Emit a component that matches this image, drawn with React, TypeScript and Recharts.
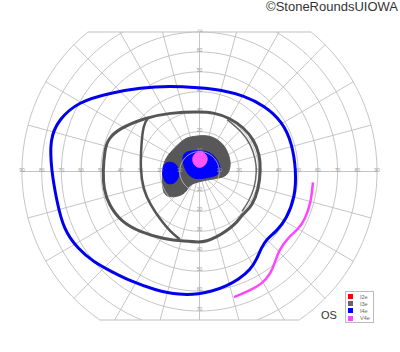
import React from "react";
import { ScatterChart, Scatter, XAxis, YAxis, ReferenceLine } from "recharts";

type Pt = { x: number; y: number; label?: string };
type XY = [number, number];

// grid: rings every 10°, meridians every 15°, field clipped top/bottom
const rings = [10, 20, 30, 40, 50, 60, 70, 80, 90];
const meridians = [0, 15, 30, 45, 60, 75, 90, 105, 120, 135, 150, 165, 180, 195, 210, 225, 240, 255, 270, 285, 300, 315, 330, 345];
const hTicks = [10, 20, 30, 40, 50, 60, 70, 80, 90];
const vTicks = [10, 20, 30, 40, 50, 60, 70];
const TOP = 70;
const BOTTOM = -74.5;
const MAXR = 90;

const legendNames = ["I2e", "I3e", "I4e", "V4e"];
const legendColors = ["#ff0000", "#666666", "#0000ff", "#ff44ff"];

// isopters, [x°, y°] from fixation
const i4eIsopter: XY[] = [
  [0, 42], [11, 41], [22.5, 38], [33, 33], [42, 25], [47, 14], [49, 0], [48.5, -12.5],
  [44, -24], [39, -30], [34, -34], [31.5, -38], [29, -44], [26, -49], [20, -54], [13.5, -57.5],
  [6.5, -60], [0, -61.5], [-10, -62], [-22.5, -59.5], [-35, -55], [-45, -50], [-53.5, -45.5],
  [-61.5, -39], [-69, -29], [-72.5, -14], [-75, 0], [-76, 16], [-71.5, 26], [-61.5, 35],
  [-45, 39.5], [-30, 42], [-15, 43],
];

const v4eIsopter: XY[] = [
  [57.5, -5.5], [56.5, -15.5], [53.5, -24], [50, -29], [45, -33], [40, -40], [38.5, -45],
  [36, -51.5], [31.5, -56.5], [25, -60], [17.5, -63],
];

const i3eIsopter: XY[] = [
  [0, 30], [7.5, 29.5], [15, 27], [22.5, 22], [27.5, 16], [30.5, 8.5], [31, 1], [30, -9],
  [26.5, -17.5], [23, -20.5], [21, -22.5], [19, -25.5], [13.5, -30], [8.5, -33], [3.5, -35],
  [0, -35.5], [-7.5, -35], [-17.5, -34], [-30, -30.5], [-40, -25], [-46, -16.5], [-48.5, -9],
  [-49, 0], [-48, 11], [-46.5, 16], [-41, 21.5], [-27.5, 27], [-15, 29.5],
];

const i3eInnerLeft: XY[] = [
  [-26, 27], [-28.5, 23.5], [-29.5, 13.5], [-30, 1], [-28.5, -9], [-25, -16.5], [-20, -24],
  [-15, -30], [-10, -34],
];

const i3eInnerRight: XY[] = [
  [14, 26], [21.5, 20], [26, 13.5], [28.5, 6], [29, 0], [28, -8], [25, -15], [21.5, -20],
];

// scotomas (filled)
const i3eScotoma: XY[] = [
  [-3.5, 17.5], [3.5, 18.5], [10, 16], [14, 11], [16, 4.5], [15, -0.5], [12.5, -3], [5, -4],
  [0, -5], [-5, -6.5], [-6.5, -10], [-10, -12.5], [-16, -13], [-18.5, -10.5], [-19, -4],
  [-18.5, 4.5], [-15, 9.5], [-10, 14.5], [-6.5, 17],
];

const i4eScotomaA: XY[] = [
  [-8.5, 9.5], [-3.5, 10.5], [3.5, 10.5], [7.5, 8], [10, 4], [11, 0], [8, -2.5], [3.5, -3],
  [-1, -4], [-5, -2.5], [-7, 0.5], [-8.5, 4.5],
];

const i4eScotomaB: XY[] = [
  [-18, 4], [-15, 5], [-12, 4], [-10.5, 1], [-10.5, -3], [-12.5, -6], [-16, -6.5], [-18, -4.5],
  [-19, 0],
];

const v4eScotoma: XY[] = [
  [-2, 9.5], [1.5, 10], [4, 8], [4, 4.5], [1.5, 2], [-1.5, 2], [-3.5, 4.5], [-3.5, 7.5],
];

const toPts = (a: XY[]): Pt[] => a.map(([x, y]) => ({ x, y }));
const rad = (d: number) => (d * Math.PI) / 180;

function arc(r: number, a0: number, a1: number): Pt[] {
  const n = Math.max(8, Math.ceil(Math.abs(a1 - a0) / 3));
  const out: Pt[] = [];
  for (let i = 0; i <= n; i++) {
    const a = rad(a0 + ((a1 - a0) * i) / n);
    out.push({ x: r * Math.cos(a), y: r * Math.sin(a) });
  }
  return out;
}

function ringArcs(r: number): Pt[][] {
  if (r <= TOP) return [arc(r, 0, 360)];
  const up = (Math.asin(TOP / r) * 180) / Math.PI;
  const down = r > -BOTTOM ? (Math.asin(-BOTTOM / r) * 180) / Math.PI : 90;
  return [arc(r, -down, up), arc(r, 180 - up, 180 + down)];
}

function spokeEnd(deg: number): Pt {
  const s = Math.sin(rad(deg));
  const c = Math.cos(rad(deg));
  let t = MAXR;
  if (s > 1e-6) t = Math.min(t, TOP / s);
  if (s < -1e-6) t = Math.min(t, -BOTTOM / -s);
  return { x: t * c, y: t * s };
}

const gridArcs = rings.flatMap(ringArcs);
const topHalf = Math.sqrt(MAXR * MAXR - TOP * TOP);
const botHalf = Math.sqrt(MAXR * MAXR - BOTTOM * BOTTOM);

const tickLabels: Pt[] = [
  ...hTicks.flatMap((t) => [
    { x: t, y: 0, label: String(t) },
    { x: -t, y: 0, label: String(t) },
  ]),
  ...vTicks.flatMap((t) => [
    { x: 0, y: t, label: String(t) },
    { x: 0, y: -t, label: String(t) },
  ]),
];

const GRID = "#bfbfbf";
const NoDot = () => <g />;
const TickText = (p: any) => (
  <text x={p.cx} y={p.cy} textAnchor="middle" fontSize={5} fill="#999" fontFamily="Liberation Sans, Arial, sans-serif">
    {p.payload?.label}
  </text>
);

export default function App() {
  return (
    <div style={{ position: "absolute", left: 0, top: 0, width: 400, height: 352, background: "#fff", fontFamily: "Liberation Sans, Arial, sans-serif" }}>
      <ScatterChart width={400} height={352} margin={{ top: 29, right: 19, bottom: 29, left: 18 }}>
        <XAxis type="number" dataKey="x" domain={[-92, 92]} allowDataOverflow hide />
        <YAxis type="number" dataKey="y" domain={[-76, 71.5]} allowDataOverflow hide />

        {/* filled scotomas under the grid lines */}
        <Scatter data={toPts(i3eScotoma)} shape={NoDot} isAnimationActive={false} legendType="none"
          line={{ fill: "#585858", stroke: "#585858", strokeWidth: 1 }} lineType="joint" lineJointType="basisClosed" />
        <Scatter data={toPts(i4eScotomaA)} shape={NoDot} isAnimationActive={false} legendType="none"
          line={{ fill: "#0000ff", stroke: "#0000ff", strokeWidth: 1 }} lineType="joint" lineJointType="basisClosed" />
        <Scatter data={toPts(i4eScotomaB)} shape={NoDot} isAnimationActive={false} legendType="none"
          line={{ fill: "#0000ff", stroke: "#0000ff", strokeWidth: 1 }} lineType="joint" lineJointType="basisClosed" />
        <Scatter data={toPts(v4eScotoma)} shape={NoDot} isAnimationActive={false} legendType="none"
          line={{ fill: "#ff55ff", stroke: "#ff55ff", strokeWidth: 1 }} lineType="joint" lineJointType="basisClosed" />

        {gridArcs.map((pts, i) => (
          <Scatter key={"ring" + i} data={pts} shape={NoDot} isAnimationActive={false} legendType="none"
            line={{ stroke: GRID, strokeWidth: 1, fill: "none", strokeOpacity: 0.9 }} lineType="joint" />
        ))}
        {meridians.map((m) => (
          <ReferenceLine key={"m" + m} segment={[{ x: 0, y: 0 }, spokeEnd(m)]} stroke={GRID} strokeOpacity={0.9} ifOverflow="visible" />
        ))}
        <ReferenceLine segment={[{ x: -topHalf, y: TOP }, { x: topHalf, y: TOP }]} stroke={GRID} ifOverflow="visible" />
        <ReferenceLine segment={[{ x: -botHalf, y: BOTTOM }, { x: botHalf, y: BOTTOM }]} stroke={GRID} ifOverflow="visible" />

        <Scatter data={tickLabels} shape={TickText} isAnimationActive={false} legendType="none" />

        {/* isopters */}
        <Scatter data={toPts(i3eIsopter)} shape={NoDot} isAnimationActive={false} legendType="none"
          line={{ stroke: "#555555", strokeWidth: 3, fill: "none" }} lineType="joint" lineJointType="basisClosed" />
        <Scatter data={toPts(i3eInnerLeft)} shape={NoDot} isAnimationActive={false} legendType="none"
          line={{ stroke: "#555555", strokeWidth: 2.5, fill: "none" }} lineType="joint" lineJointType="basis" />
        <Scatter data={toPts(i3eInnerRight)} shape={NoDot} isAnimationActive={false} legendType="none"
          line={{ stroke: "#666666", strokeWidth: 1.5, fill: "none" }} lineType="joint" lineJointType="basis" />
        <Scatter data={toPts(i4eIsopter)} shape={NoDot} isAnimationActive={false} legendType="none"
          line={{ stroke: "#0000ee", strokeWidth: 3, fill: "none" }} lineType="joint" lineJointType="basisClosed" />
        <Scatter data={toPts(v4eIsopter)} shape={NoDot} isAnimationActive={false} legendType="none"
          line={{ stroke: "#ff44ff", strokeWidth: 2.5, fill: "none" }} lineType="joint" lineJointType="basis" />
      </ScatterChart>

      <div style={{ position: "absolute", right: 2, top: 0, fontSize: 13, lineHeight: "14px", color: "#333", whiteSpace: "nowrap" }}>
        ©StoneRoundsUIOWA
      </div>
      <div style={{ position: "absolute", left: 321, top: 309, fontSize: 11, color: "#333" }}>OS</div>
      <div style={{ position: "absolute", left: 345, top: 291, width: 27, height: 30, border: "1px solid #bbb", background: "#fff" }}>
        {legendNames.map((n, i) => (
          <div key={n} style={{ position: "absolute", left: 2, top: 1.5 + i * 7.2, height: 6, display: "flex", alignItems: "center" }}>
            <span style={{ display: "inline-block", width: 5, height: 5, background: legendColors[i] }} />
            <span style={{ marginLeft: 7, fontSize: 5.5, color: "#666", lineHeight: "6px" }}>{n}</span>
          </div>
        ))}
      </div>
    </div>
  );
}
